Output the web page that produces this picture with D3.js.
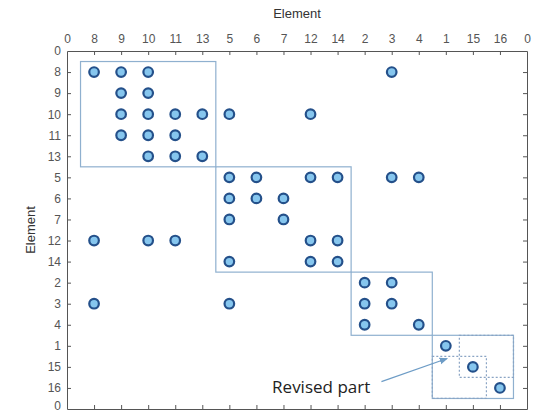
<!DOCTYPE html>
<html>
<head>
<meta charset="utf-8">
<script src="https://cdn.jsdelivr.net/npm/d3@7"></script>
<style>
  body { margin: 0; background: #fff; }
  text { font-family: "Liberation Sans", Arial, sans-serif; }
</style>
</head>
<body>
<div id="chart"></div>
<script>
// element order along both axes
var order = [8, 9, 10, 11, 13, 5, 6, 7, 12, 14, 2, 3, 4, 1, 15, 16];
var tickLabels = ["0"].concat(order.map(String), ["0"]);

// non-zero entries: [row element, column element]
var entries = [
  [8, 8], [8, 9], [8, 10], [8, 3],
  [9, 9], [9, 10],
  [10, 9], [10, 10], [10, 11], [10, 13], [10, 5], [10, 12],
  [11, 9], [11, 10], [11, 11],
  [13, 10], [13, 11], [13, 13],
  [5, 5], [5, 6], [5, 12], [5, 14], [5, 3], [5, 4],
  [6, 5], [6, 6], [6, 7],
  [7, 5], [7, 7],
  [12, 8], [12, 10], [12, 11], [12, 12], [12, 14],
  [14, 5], [14, 12], [14, 14],
  [2, 2], [2, 3],
  [3, 8], [3, 5], [3, 2], [3, 3],
  [4, 2], [4, 4],
  [1, 1],
  [15, 15],
  [16, 16]
];

// diagonal blocks (solid) and revised sub-blocks (dashed)
var blocks = [
  { rows: [8, 13], cols: [8, 13] },
  { rows: [5, 14], cols: [5, 14] },
  { rows: [2, 4], cols: [2, 4] },
  { rows: [1, 16], cols: [1, 16] }
];
var revised = [
  { rows: [1, 15], cols: [15, 16] },
  { rows: [15, 16], cols: [1, 15] }
];

var width = 539, height = 413;
var svg = d3.select("#chart").append("svg")
  .attr("width", width)
  .attr("height", height);

var x = d3.scaleLinear().domain([0, 17]).range([67, 527]);
var y = d3.scaleLinear().domain([0, 17]).range([51, 409]);

function pos(el) { return order.indexOf(el) + 1; }

var tickIdx = d3.range(0, 18);
var axisColor = "#555";

// top axis with labels, ticks inward
svg.append("g")
  .attr("transform", "translate(0," + y(0) + ")")
  .call(d3.axisTop(x).tickValues(tickIdx).tickSizeInner(-4).tickSizeOuter(0).tickPadding(8)
    .tickFormat(function(d) { return tickLabels[d]; }))
  .call(styleAxis);

// bottom axis, no labels
svg.append("g")
  .attr("transform", "translate(0," + y(17) + ")")
  .call(d3.axisBottom(x).tickValues(d3.range(1, 17)).tickSizeInner(-4).tickSizeOuter(0)
    .tickFormat(""))
  .call(styleAxis);

// left axis with labels
var leftAxis = svg.append("g")
  .attr("transform", "translate(" + x(0) + ",0)")
  .call(d3.axisLeft(y).tickValues(tickIdx).tickSizeInner(-4).tickSizeOuter(0).tickPadding(6)
    .tickFormat(function(d) { return tickLabels[d]; }))
  .call(styleAxis);
// last label sits at the window edge, lift it a bit
leftAxis.selectAll(".tick").filter(function(d) { return d === 17; })
  .select("text").attr("dy", "0.05em");

// right axis, no labels
svg.append("g")
  .attr("transform", "translate(" + x(17) + ",0)")
  .call(d3.axisRight(y).tickValues(d3.range(1, 17)).tickSizeInner(-4).tickSizeOuter(0)
    .tickFormat(""))
  .call(styleAxis);

function styleAxis(g) {
  g.attr("font-family", null).attr("font-size", null);
  g.select(".domain").attr("stroke", axisColor);
  g.selectAll(".tick line").attr("stroke", axisColor);
  g.selectAll(".tick text")
    .attr("fill", "#555")
    .style("font-family", "'Liberation Sans', Arial, sans-serif")
    .style("font-size", "12px");
  g.selectAll(".tick")
    .filter(function(d) { return d === 0 || d === 17; })
    .select("line").remove();
}

// axis titles
svg.append("text")
  .attr("x", (x(0) + x(17)) / 2)
  .attr("y", 18)
  .attr("text-anchor", "middle")
  .attr("fill", "#333")
  .style("font-size", "13px")
  .text("Element");

svg.append("text")
  .attr("transform", "translate(35," + (y(0) + y(17)) / 2 + ") rotate(-90)")
  .attr("text-anchor", "middle")
  .attr("fill", "#333")
  .style("font-size", "13px")
  .text("Element");

// block rectangles
function rectOf(b) {
  var c0 = pos(b.cols[0]) - 0.5, c1 = pos(b.cols[1]) + 0.5;
  var r0 = pos(b.rows[0]) - 0.5, r1 = pos(b.rows[1]) + 0.5;
  return { x: x(c0), y: y(r0), w: x(c1) - x(c0), h: y(r1) - y(r0) };
}

svg.append("g").selectAll("rect")
  .data(blocks)
  .enter().append("rect")
  .each(function(b) {
    var r = rectOf(b);
    d3.select(this).attr("x", r.x).attr("y", r.y).attr("width", r.w).attr("height", r.h);
  })
  .attr("fill", "none")
  .attr("stroke", "#8fb0cf")
  .attr("stroke-width", 1.2);

svg.append("g").selectAll("rect")
  .data(revised)
  .enter().append("rect")
  .each(function(b) {
    var r = rectOf(b);
    d3.select(this).attr("x", r.x).attr("y", r.y).attr("width", r.w).attr("height", r.h);
  })
  .attr("fill", "none")
  .attr("stroke", "#8aa4c4")
  .attr("stroke-width", 1.2)
  .attr("stroke-dasharray", "2,2");

// markers
svg.append("g").selectAll("circle")
  .data(entries)
  .enter().append("circle")
  .attr("cx", function(d) { return x(pos(d[1])); })
  .attr("cy", function(d) { return y(pos(d[0])); })
  .attr("r", 4.8)
  .attr("fill", "#86c6ee")
  .attr("stroke", "#24508a")
  .attr("stroke-width", 2.2);

// annotation
var defs = svg.append("defs");
defs.append("marker")
  .attr("id", "arrow")
  .attr("viewBox", "0 0 10 10")
  .attr("refX", 9).attr("refY", 5)
  .attr("markerWidth", 7).attr("markerHeight", 7)
  .attr("orient", "auto")
  .append("path")
  .attr("d", "M0,1 L10,5 L0,9 Z")
  .attr("fill", "#6d9cc6");

svg.append("line")
  .attr("x1", x(11.62)).attr("y1", y(15.7))
  .attr("x2", x(14.05)).attr("y2", y(14.6))
  .attr("stroke", "#6d9cc6")
  .attr("stroke-width", 1.2)
  .attr("marker-end", "url(#arrow)");

svg.append("text")
  .attr("x", x(7.58))
  .attr("y", y(16.25))
  .attr("fill", "#222")
  .style("font-family", "'Open Sans', sans-serif")
  .style("font-size", "17px")
  .text("Revised part");
</script>
</body>
</html>
